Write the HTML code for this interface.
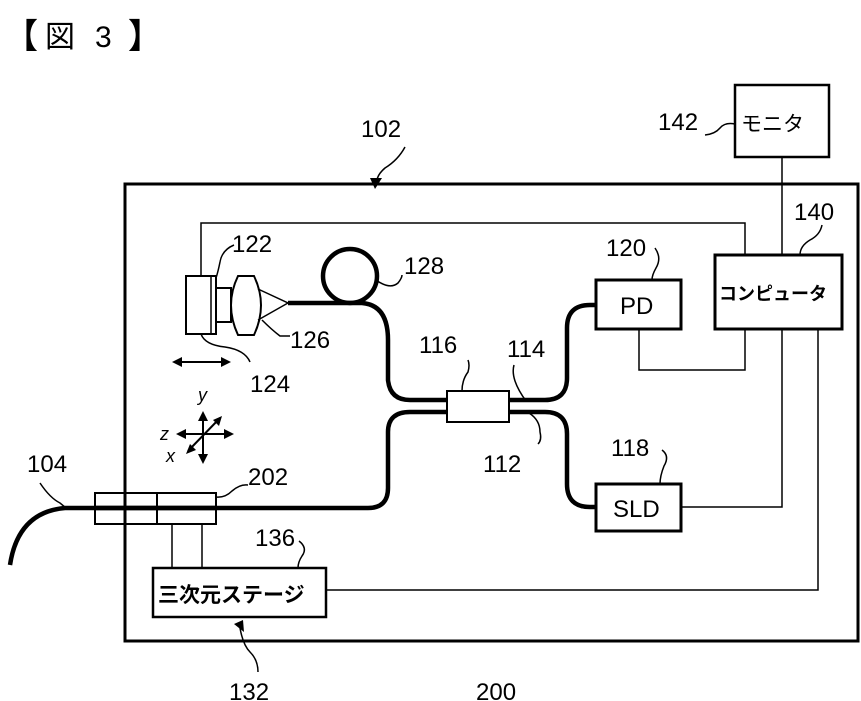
<!DOCTYPE html>
<html><head><meta charset="utf-8"><style>
html,body{margin:0;padding:0;background:#fff;}
svg{display:block;}
text{font-family:"Liberation Sans","Noto Sans CJK JP",sans-serif;fill:#000;}
</style></head><body>
<svg width="861" height="701" viewBox="0 0 861 701" xmlns="http://www.w3.org/2000/svg">
<g fill="none" stroke="#000">
<rect x="125" y="184" width="733" height="457" stroke-width="3"/>
<rect x="735" y="85" width="94" height="72" stroke-width="2.5"/>
<rect x="715" y="255" width="127" height="74" stroke-width="3"/>
<rect x="596" y="280" width="85" height="49" stroke-width="3"/>
<rect x="596" y="484" width="85" height="47" stroke-width="3"/>
<rect x="447" y="391" width="62" height="31" stroke-width="2"/>
<rect x="153" y="568" width="173" height="49" stroke-width="2.5"/>
<g stroke-width="1.5">
<polyline points="782,157 782,255"/>
<polyline points="201,276 201,223 745,223 745,255"/>
<polyline points="639,329 639,370 745,370 745,329"/>
<polyline points="681,507 782,507 782,329"/>
<polyline points="818,329 818,590 326,590"/>
<line x1="172" y1="524" x2="172" y2="568"/>
<line x1="202" y1="524" x2="202" y2="568"/>
</g>
<rect x="186" y="276" width="30" height="58" stroke-width="2"/>
<line x1="211" y1="276" x2="211" y2="334" stroke-width="1.5"/>
<rect x="216" y="288" width="15" height="34" stroke-width="2"/>
<path d="M238,276 L254,276 Q268,305 254,335 L238,335 Q224,305 238,276 Z" stroke-width="2"/>
<polyline points="258,289 288,303 258,320" stroke-width="1.5"/>
<g stroke-width="4.5">
<path d="M288,303 L350,303"/>
<circle cx="350" cy="276" r="27"/>
<path d="M350,303 L362,303 Q388,305 388,340 L388,380 Q390,400 410,400 L447,400"/>
<path d="M447,412 L410,412 Q388,412 388,432 L388,488 Q388,508 368,508 L95,508"/>
<path d="M95,508 L65,508 Q18,512 10,565"/>
<path d="M509,400 L545,400 Q567,400 567,378 L567,328 Q567,305 590,305 L596,305"/>
<path d="M509,412 L545,412 Q567,412 567,434 L567,484 Q567,507 590,507 L596,507"/>
</g>
<rect x="95" y="493" width="62" height="31" stroke-width="2"/>
<rect x="157" y="493" width="59" height="31" stroke-width="2"/>
<line x1="95" y1="508" x2="216" y2="508" stroke-width="4.5"/>
<g stroke-width="1.5">
<path d="M405,147 Q398,160 385,168 Q378,174 377,180"/>
<path d="M735,124 Q725,122 720,128 Q715,134 705,135"/>
<path d="M822,225 Q820,235 810,240 Q800,246 800,255"/>
<path d="M234,245 Q222,250 220,262 Q218,272 216,278"/>
<path d="M376,280 Q390,290 398,283 Q402,278 402,275"/>
<path d="M655,248 Q662,258 656,268 Q652,275 652,280"/>
<path d="M262,320 Q272,330 280,336 L290,336"/>
<path d="M201,334 Q205,345 225,347 Q245,350 250,362"/>
<path d="M462,391 Q462,380 468,372 Q470,365 468,360"/>
<path d="M526,401 Q518,390 515,381 Q512,372 514,365"/>
<path d="M529,413 Q540,420 540,432 Q542,440 538,444"/>
<path d="M662,450 Q670,456 664,466 Q660,476 660,484"/>
<path d="M40,483 Q50,498 60,503 L66,508"/>
<path d="M216,497 Q225,498 232,491 Q240,484 248,485"/>
<path d="M299,541 Q308,548 302,556 Q298,562 298,568"/>
<path d="M258,672 Q258,660 250,652 Q243,645 240,628"/>
</g>
<g stroke-width="2">
<line x1="203" y1="415" x2="203" y2="460"/>
<line x1="180" y1="434" x2="230" y2="434"/>
<line x1="188" y1="451" x2="220" y2="418"/>
<line x1="175" y1="362" x2="228" y2="362"/>
</g>
</g>
<g fill="#000">
<polygon points="370,178 382,178 375,189"/>
<polygon points="234,624 244,632 243,620" />
<polygon points="203,411 198,421 208,421"/>
<polygon points="203,464 198,454 208,454"/>
<polygon points="176,434 186,429 186,439"/>
<polygon points="234,434 224,429 224,439"/>
<polygon points="186,454 190,444 196,450"/>
<polygon points="222,416 213,420 219,426"/>
<polygon points="172,362 182,357 182,367"/>
<polygon points="231,362 221,357 221,367"/>
</g>
<text x="4" y="48" font-size="34" font-weight="bold">【</text>
<text x="45" y="47" font-size="30">図</text>
<text x="95" y="47" font-size="30">3</text>
<text x="128" y="48" font-size="34" font-weight="bold">】</text>
<g font-size="24">
<text x="361" y="137">102</text>
<text x="658" y="130">142</text>
<text x="794" y="220">140</text>
<text x="232" y="252">122</text>
<text x="404" y="274">128</text>
<text x="606" y="256">120</text>
<text x="290" y="348">126</text>
<text x="250" y="392">124</text>
<text x="419" y="353">116</text>
<text x="507" y="357">114</text>
<text x="483" y="472">112</text>
<text x="611" y="456">118</text>
<text x="27" y="472">104</text>
<text x="248" y="485">202</text>
<text x="255" y="546">136</text>
<text x="229" y="700">132</text>
<text x="476" y="700">200</text>
<text x="620" y="314">PD</text>
<text x="613" y="517">SLD</text>
</g>
<text x="741" y="131" font-size="21">モニタ</text>
<text x="719" y="300" font-size="18" font-weight="bold">コンピュータ</text>
<text x="158" y="602" font-size="21" font-weight="bold">三次元ステージ</text>
<g font-style="italic" font-size="18">
<text x="198" y="401" font-family="Liberation Serif">y</text>
<text x="160" y="440" font-family="Liberation Serif">z</text>
<text x="166" y="462" font-family="Liberation Serif">x</text>
</g>
</svg>
</body></html>
